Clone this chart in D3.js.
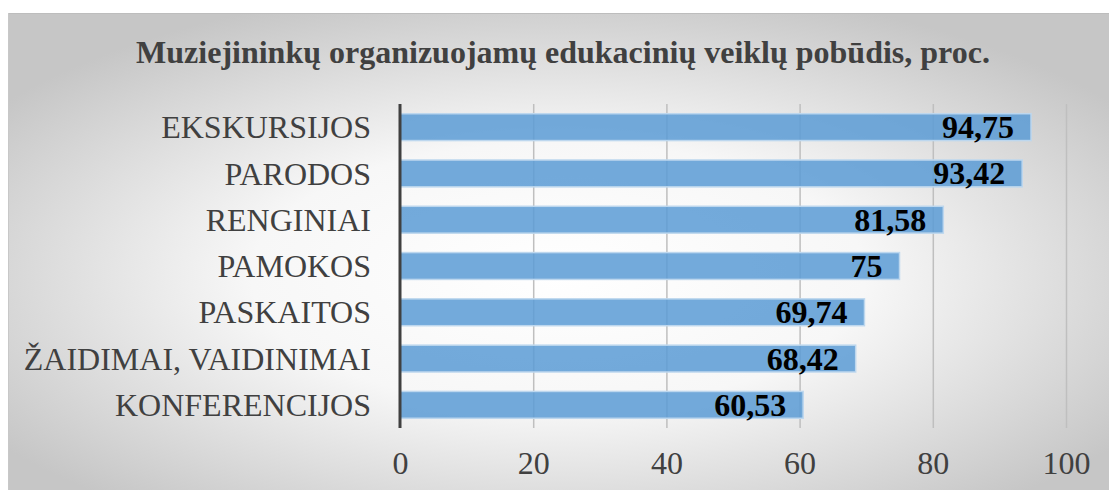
<!DOCTYPE html>
<html><head><meta charset="utf-8">
<script src="https://cdn.jsdelivr.net/npm/d3@7"></script>
<style>body{margin:0;background:#fff;}svg{display:block;} text{font-family:"Liberation Serif","Times New Roman",Times,"DejaVu Serif",serif;}</style>
</head><body>
<svg id="c" width="1109" height="490"></svg>
<script>
const categories = ["EKSKURSIJOS","PARODOS","RENGINIAI","PAMOKOS","PASKAITOS","ŽAIDIMAI, VAIDINIMAI","KONFERENCIJOS"];
const values = [94.75, 93.42, 81.58, 75, 69.74, 68.42, 60.53];
const labels = ["94,75","93,42","81,58","75","69,74","68,42","60,53"];
const ticks = [0,20,40,60,80,100];
const title = "Muziejininkų organizuojamų edukacinių veiklų pobūdis, proc.";
const FF = '"Liberation Serif","Times New Roman",Times,"DejaVu Serif",serif';

const svg = d3.select("#c");
const defs = svg.append("defs");
const g = defs.append("radialGradient").attr("id","bg").attr("cx","50%").attr("cy","55%").attr("r","62%");
g.append("stop").attr("offset","0%").attr("stop-color","#ffffff");
g.append("stop").attr("offset","45%").attr("stop-color","#f7f7f7");
g.append("stop").attr("offset","100%").attr("stop-color","#c6c6c6");
svg.append("rect").attr("x",8).attr("y",13).attr("width",1101).attr("height",477).attr("fill","url(#bg)");
svg.append("line").attr("x1",8).attr("x2",1109).attr("y1",13.5).attr("y2",13.5).attr("stroke","#bdbdbd").attr("stroke-width",1);
svg.append("line").attr("x1",8.5).attr("x2",8.5).attr("y1",13).attr("y2",490).attr("stroke","#c8c8c8").attr("stroke-width",1);

const x = d3.scaleLinear().domain([0,100]).range([400,1066]);
const y = d3.scaleBand().domain(categories).range([104,428]).paddingInner(0.42).paddingOuter(0.21);

svg.append("text").attr("x",563).attr("y",63).attr("text-anchor","middle")
  .style("font-family",FF).attr("font-weight","bold").attr("font-size",32).attr("fill","#404040").text(title);

// grid
svg.append("g").selectAll("line").data(ticks.slice(1)).join("line")
  .attr("x1",d=>x(d)+0.5).attr("x2",d=>x(d)+0.5).attr("y1",104).attr("y2",428)
  .attr("stroke","#bfbfbf").attr("stroke-width",1.5);

// bars
svg.append("g").selectAll("rect").data(values).join("rect")
  .attr("x",x(0)).attr("y",(d,i)=>y(categories[i]))
  .attr("width",d=>x(d)-x(0)).attr("height",y.bandwidth())
  .attr("fill","#5b9bd5").attr("fill-opacity",0.85)
  .attr("stroke","#bdd7ee").attr("stroke-width",1.5);

// axis line
svg.append("line").attr("x1",400).attr("x2",400).attr("y1",104).attr("y2",428).attr("stroke","#404040").attr("stroke-width",3);

// x axis ticks
const xa = svg.append("g").attr("transform","translate(0,428)").call(d3.axisBottom(x).tickValues(ticks).tickSize(0).tickPadding(0));
xa.select(".domain").remove();
xa.selectAll("text").attr("dy",null).attr("y",46).style("font-family",FF).attr("font-size",32).attr("fill","#404040");

// y labels
const ya = svg.append("g").attr("transform","translate(400,0)").call(d3.axisLeft(y).tickSize(0).tickPadding(29));
ya.select(".domain").remove();
ya.selectAll("text").attr("dy","0.35em").style("font-family",FF).attr("font-size",32).attr("fill","#404040");

// data labels
svg.append("g").selectAll("text").data(values).join("text")
  .attr("x",d=>x(d)-17).attr("y",(d,i)=>y(categories[i])+y.bandwidth()/2+11)
  .attr("text-anchor","end").style("font-family",FF).attr("font-weight","bold")
  .attr("font-size",32).attr("fill","#000").text((d,i)=>labels[i]);
</script>
</body></html>
